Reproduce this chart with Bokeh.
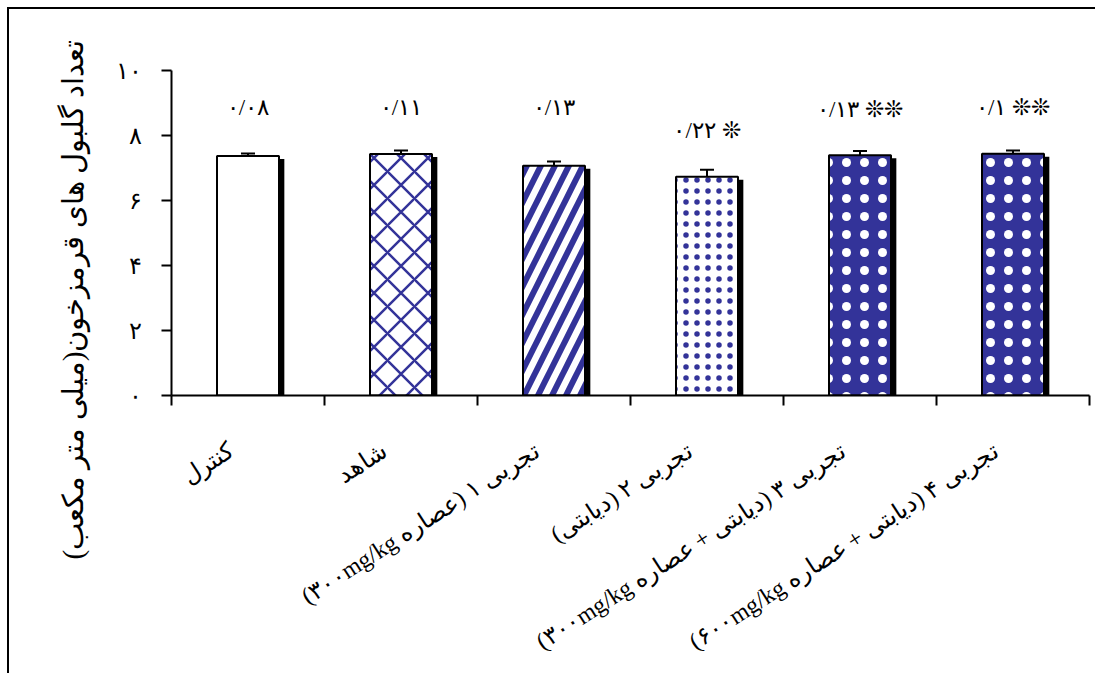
import math
from bokeh.plotting import figure
from bokeh.models import Range1d, FixedTicker, Whisker, ColumnDataSource, Title, TeeHead
from bokeh.embed import file_html
from bokeh.resources import INLINE
from bokeh.core.properties import value

# ---- data ----
categories = [
    "کنترل",
    "شاهد",
    "تجربی ۱ (عصاره ۳۰۰mg/kg)",
    "تجربی ۲ (دیابتی)",
    "تجربی ۳ (دیابتی + عصاره ۳۰۰mg/kg)",
    "تجربی ۴ (دیابتی + عصاره ۶۰۰mg/kg)",
]
means = [7.37, 7.43, 7.07, 6.73, 7.39, 7.44]
errors = [0.08, 0.11, 0.13, 0.22, 0.13, 0.10]
error_labels = ["۰/۰۸", "۰/۱۱", "۰/۱۳", "۰/۲۲", "۰/۱۳", "۰/۱"]
significance = ["", "", "", "❊", "❊❊", "❊❊"]
y_ticks = [0, 2, 4, 6, 8, 10]
y_tick_labels = ["۰", "۲", "۴", "۶", "۸", "۱۰"]
y_title = "تعداد گلبول های قرمزخون(میلی متر مکعب)"

# ---- styles ----
BLUE = "#333399"
fill_colors = ["white", "white", "white", "white", BLUE, BLUE]
hatch_patterns = [" ", "diagonal_cross", "right_diagonal_line", "dot", "dot", "dot"]
hatch_colors = [BLUE, BLUE, BLUE, BLUE, "white", "white"]
hatch_scales = [10, 27, 28, 11, 18, 18]
hatch_weights = [1, 2.5, 6, 1, 1, 1]
label_levels = [8.85, 8.85, 8.85, 8.15, 8.8, 8.85]

RLE, PDF = "\u202b", "\u202c"
n = len(categories)
xs = [i + 0.5 for i in range(n)]
label_ticks = [round(x - 0.11, 3) for x in xs]

src = ColumnDataSource(dict(
    x=xs,
    xs_shadow=[x + 0.035 for x in xs],
    top=means,
    top_shadow=[m - 0.09 for m in means],
    upper=[m + e for m, e in zip(means, errors)],
    lower=[m - e for m, e in zip(means, errors)],
    fill=fill_colors, hp=hatch_patterns, hc=hatch_colors, hs=hatch_scales, hw=hatch_weights,
    lab=[(a + " " + b).strip() for a, b in zip(error_labels, significance)],
    ly=label_levels,
))

p = figure(width=1088, height=666, x_range=Range1d(0, n), y_range=Range1d(0, 10),
           output_backend="svg", toolbar_location=None,
           min_border_left=162, min_border_right=8, min_border_top=61, min_border_bottom=280)
p.styles = {"margin-left": "7px", "margin-top": "7px",
            "border-left": "2px solid black", "border-top": "2px solid black"}
p.outline_line_color = None
p.xgrid.visible = False
p.ygrid.visible = False

# shadows
p.vbar(x="xs_shadow", top="top_shadow", bottom=0, width=0.405, source=src,
       fill_color="black", line_color=None)
# bars
p.vbar(x="x", top="top", bottom=0, width=0.405, source=src,
       fill_color="fill", line_color="black", line_width=2,
       hatch_pattern="hp", hatch_color="hc", hatch_scale="hs", hatch_weight="hw")

# error bars
w = Whisker(base="x", upper="upper", lower="lower", source=src,
            line_color="black", line_width=2,
            upper_head=TeeHead(size=14, line_width=2, line_color="black"),
            lower_head=TeeHead(size=14, line_width=2, line_color="black"))
p.add_layout(w)

# labels above bars
p.text(x="x", y="ly", text="lab", source=src, text_align="center", text_baseline="middle",
       text_font=value("Liberation Serif"), text_font_size="23px", text_color="black")

# axes
p.xaxis.ticker = FixedTicker(ticks=label_ticks, minor_ticks=list(range(n + 1)))
p.xaxis.major_label_overrides = {t: RLE + c + PDF for t, c in zip(label_ticks, categories)}
p.xaxis.major_label_orientation = 0.57
p.xaxis.major_tick_out = 0
p.xaxis.major_tick_in = 0
p.xaxis.minor_tick_out = 10
p.xaxis.minor_tick_in = 0
p.xaxis.minor_tick_line_color = "black"
p.xaxis.minor_tick_line_width = 2
p.xaxis.major_label_standoff = 43
p.xaxis.major_label_text_font = "Liberation Serif"
p.xaxis.major_label_text_font_size = "24px"
p.xaxis.major_label_text_color = "black"
p.xaxis.axis_line_width = 2
p.xaxis.axis_line_color = "black"

p.yaxis.ticker = FixedTicker(ticks=y_ticks, minor_ticks=[])
p.yaxis.major_label_overrides = {t: l for t, l in zip(y_ticks, y_tick_labels)}
p.yaxis.major_tick_out = 10
p.yaxis.major_tick_in = 0
p.yaxis.major_tick_line_width = 2
p.yaxis.major_tick_line_color = "black"
p.yaxis.minor_tick_line_color = None
p.yaxis.major_label_standoff = 20
p.yaxis.major_label_text_font = "Liberation Serif"
p.yaxis.major_label_text_font_size = "24px"
p.yaxis.major_label_text_color = "black"
p.yaxis.axis_line_width = 2
p.yaxis.axis_line_color = "black"

p.add_layout(Title(text=RLE + y_title + PDF, align="left", offset=-164, standoff=47,
                   text_font="Liberation Serif", text_font_size="29px",
                   text_font_style="normal", text_color="black"), "left")

open("out.html", "w").write(file_html(p, INLINE))
